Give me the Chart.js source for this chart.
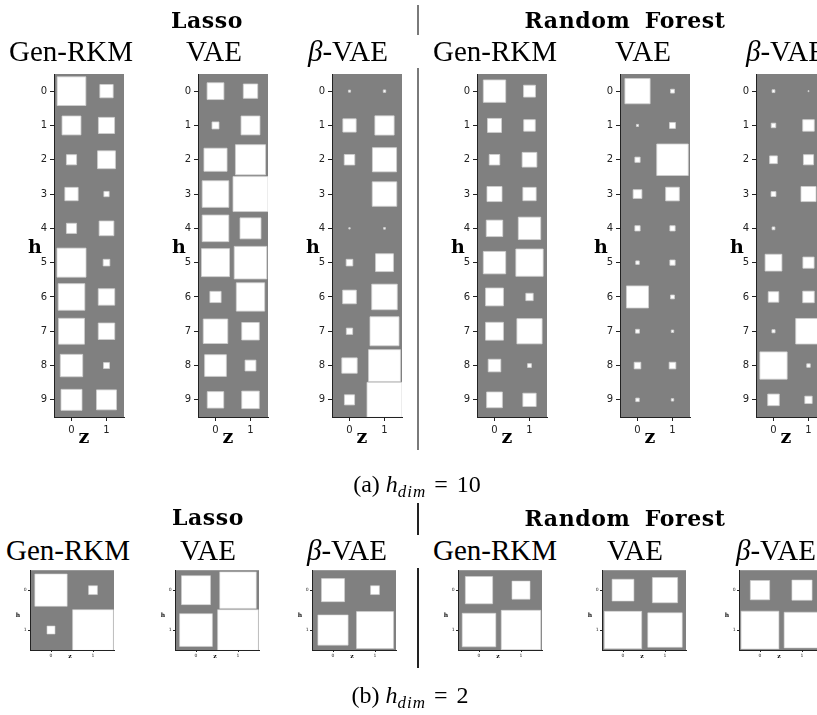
<!DOCTYPE html>
<html>
<head>
<meta charset="utf-8">
<script src="https://cdn.jsdelivr.net/npm/chart.js@4.4.0/dist/chart.umd.min.js"></script>
<style>
html, body { margin: 0; padding: 0; background: #fff; overflow: hidden; }
#fig { position: relative; width: 817px; height: 715px; overflow: hidden; }
canvas { position: absolute; }
.t { position: absolute; transform: translate(-50%, -50%); white-space: nowrap; color: #000; line-height: 1; }
.group { font-family: 'DejaVu Serif'; font-weight: bold; font-size: 22px; letter-spacing: 0.6px; word-spacing: 6px; }
.model { font-family: 'Liberation Serif'; font-size: 29px; }
.axl { font-family: 'DejaVu Serif'; font-weight: bold; font-size: 19px; }
.axs { font-family: 'DejaVu Serif'; font-weight: bold; font-size: 6px; }
.cap { font-family: 'Liberation Serif'; font-size: 24px; }
.cap sub { font-size: 17px; vertical-align: -5px; letter-spacing: 1px; }
.cap .eq { margin: 0 9px 0 8px; }
.sep { position: absolute; }
</style>
</head>
<body>
<div id="fig"></div>
<script>
// tick labels
const hTicks10 = [0, 1, 2, 3, 4, 5, 6, 7, 8, 9];
const hTicks2 = [0, 1];
const zTicks = [0, 1];

const groups = ['Lasso', 'Random Forest'];
const models = ['Gen-RKM', 'VAE', 'β-VAE'];

// hinton square side, relative to one cell, rows = h, cols = z
// (a) h_dim = 10
const lassoGenRKM10 = [[0.82, 0.38], [0.54, 0.46], [0.29, 0.51], [0.38, 0.15], [0.29, 0.42],
                       [0.83, 0.19], [0.76, 0.47], [0.74, 0.47], [0.64, 0.17], [0.60, 0.57]];
const lassoVAE10    = [[0.48, 0.41], [0.20, 0.54], [0.66, 0.86], [0.76, 1.00], [0.76, 0.60],
                       [0.80, 0.93], [0.32, 0.81], [0.70, 0.50], [0.62, 0.31], [0.47, 0.50]];
const lassoBetaVAE10 = [[0.06, 0.07], [0.38, 0.55], [0.30, 0.69], [0.00, 0.70], [0.04, 0.05],
                        [0.19, 0.51], [0.39, 0.73], [0.18, 0.83], [0.44, 0.91], [0.29, 1.00]];
const rfGenRKM10    = [[0.64, 0.34], [0.40, 0.33], [0.30, 0.42], [0.43, 0.38], [0.47, 0.64],
                       [0.64, 0.78], [0.51, 0.21], [0.51, 0.72], [0.36, 0.11], [0.45, 0.38]];
const rfVAE10       = [[0.72, 0.11], [0.06, 0.17], [0.15, 0.90], [0.25, 0.39], [0.15, 0.15],
                       [0.10, 0.15], [0.63, 0.11], [0.11, 0.07], [0.19, 0.19], [0.10, 0.07]];
const rfBetaVAE10   = [[0.08, 0.03], [0.13, 0.33], [0.22, 0.29], [0.14, 0.43], [0.08, 0.00],
                       [0.48, 0.32], [0.30, 0.33], [0.09, 0.73], [0.78, 0.10], [0.33, 0.21]];
// (b) h_dim = 2
const lassoGenRKM2  = [[0.77, 0.21], [0.19, 0.97]];
const lassoVAE2     = [[0.69, 0.87], [0.78, 0.97]];
const lassoBetaVAE2 = [[0.55, 0.21], [0.72, 0.88]];
const rfGenRKM2     = [[0.65, 0.43], [0.80, 0.94]];
const rfVAE2        = [[0.52, 0.60], [0.89, 0.82]];
const rfBetaVAE2    = [[0.46, 0.48], [0.90, 0.85]];

const fig = document.getElementById('fig');

function addText(cls, html, x, y) {
    const d = document.createElement('div');
    d.className = 't ' + cls;
    d.innerHTML = html;
    d.style.left = x + 'px';
    d.style.top = y + 'px';
    fig.appendChild(d);
}

function addSep(x, y0, y1, w, col) {
    const d = document.createElement('div');
    d.className = 'sep';
    d.style.left = (x - w / 2) + 'px';
    d.style.top = y0 + 'px';
    d.style.width = w + 'px';
    d.style.height = (y1 - y0) + 'px';
    d.style.background = col;
    fig.appendChild(d);
}

// grey hinton background
const greyBg = {
    id: 'greyBg',
    beforeDraw(chart) {
        const a = chart.chartArea, c = chart.ctx;
        c.save();
        c.fillStyle = '#808080';
        c.fillRect(a.left, a.top, a.right - a.left, a.bottom - a.top);
        c.restore();
    }
};

function cellPx(chart) {
    const s = chart.scales.x;
    return Math.abs(s.getPixelForValue(1) - s.getPixelForValue(0));
}

// g = axis geometry for the row of panels
function makePanel(values, hTicks, left, top, w, h, g) {
    const cv = document.createElement('canvas');
    cv.width = g.pl + w + g.pr;
    cv.height = g.pt + h + g.pb;
    cv.style.left = (left - g.pl) + 'px';
    cv.style.top = (top - g.pt) + 'px';
    fig.appendChild(cv);

    const pts = values.flatMap((row, hi) => row.map((v, zi) => ({ x: zi, y: hi, v: v })));
    const rad = c => (c.raw ? c.raw.v * cellPx(c.chart) / Math.SQRT2 : 0);

    new Chart(cv.getContext('2d'), {
        type: 'scatter',
        data: {
            datasets: [{
                data: pts,
                pointStyle: 'rect',
                pointBackgroundColor: '#ffffff',
                pointBorderColor: '#d0d0d0',
                pointBorderWidth: g.bw,
                pointRadius: rad,
                pointHoverRadius: rad,
                clip: 0
            }]
        },
        options: {
            responsive: false,
            animation: false,
            events: [],
            layout: { padding: { top: g.pt, right: g.pr, left: 0, bottom: 0 } },
            plugins: { legend: { display: false }, tooltip: { enabled: false } },
            scales: {
                x: {
                    type: 'linear', min: -0.5, max: 1.5,
                    afterBuildTicks: s => { s.ticks = zTicks.map(v => ({ value: v })); },
                    afterFit: s => { s.height = g.pb; },
                    grid: { drawOnChartArea: false, tickLength: g.tl, color: '#222' },
                    border: { color: '#222', width: 1 },
                    ticks: { font: { family: 'DejaVu Sans', size: g.fs }, color: '#222', padding: g.tp, maxRotation: 0, autoSkip: false }
                },
                y: {
                    type: 'linear', reverse: true, min: -0.5, max: hTicks.length - 0.5,
                    afterBuildTicks: s => { s.ticks = hTicks.map(v => ({ value: v })); },
                    afterFit: s => { s.width = g.pl; },
                    grid: { drawOnChartArea: false, tickLength: g.tl, color: '#222' },
                    border: { color: '#222', width: 1 },
                    ticks: { font: { family: 'DejaVu Sans', size: g.fs }, color: '#222', padding: g.tp, autoSkip: false }
                }
            }
        },
        plugins: [greyBg]
    });
}

// ---- (a) h_dim = 10 ----
const geoA = { pl: 26, pr: 2, pt: 4, pb: 20, tl: 4, tp: 3, fs: 10, bw: 0.8 };
const setA = [lassoGenRKM10, lassoVAE10, lassoBetaVAE10, rfGenRKM10, rfVAE10, rfBetaVAE10];
const leftA = [54, 198, 332, 477, 620, 756];
const titleXA = [71, 214, 348, 495, 643, 786];
setA.forEach((vals, i) => {
    makePanel(vals, hTicks10, leftA[i], 69, 70, 348, geoA);
    addText('model', models[i % 3].replace('β', '<i>β</i>'), titleXA[i], 51);
    addText('axl', 'h', leftA[i] - 19, 246);
    addText('axl', 'z', leftA[i] + 30, 436);
});
addText('group', groups[0], 207, 20);
addText('group', groups[1], 625, 20);
addText('cap', '(a) <i>h</i><sub><i>dim</i></sub><span class="eq">=</span>10', 417, 486);
addSep(418, 5, 35, 2, '#7a7a7a');
addSep(418, 68, 450, 2, '#7a7a7a');

// ---- (b) h_dim = 2 ----
const geoB = { pl: 12, pr: 2, pt: 2, pb: 10, tl: 2, tp: 1.5, fs: 4.5, bw: 0.6 };
const setB = [lassoGenRKM2, lassoVAE2, lassoBetaVAE2, rfGenRKM2, rfVAE2, rfBetaVAE2];
const leftB = [30, 175, 312, 458, 602, 739];
const titleXB = [68, 208, 347, 495, 635, 776];
setB.forEach((vals, i) => {
    makePanel(vals, hTicks2, leftB[i], 568, 84, 82, geoB);
    addText('model', models[i % 3].replace('β', '<i>β</i>'), titleXB[i], 550);
    addText('axs', 'h', leftB[i] - 12, 615);
    addText('axs', 'z', leftB[i] + 40, 656);
});
addText('group', groups[0], 208, 517);
addText('group', groups[1], 625, 518);
addText('cap', '(b) <i>h</i><sub><i>dim</i></sub><span class="eq">=</span>2', 410, 697);
addSep(418, 503, 535, 1.2, '#222');
addSep(418, 568, 668, 1.2, '#222');
</script>
</body>
</html>
